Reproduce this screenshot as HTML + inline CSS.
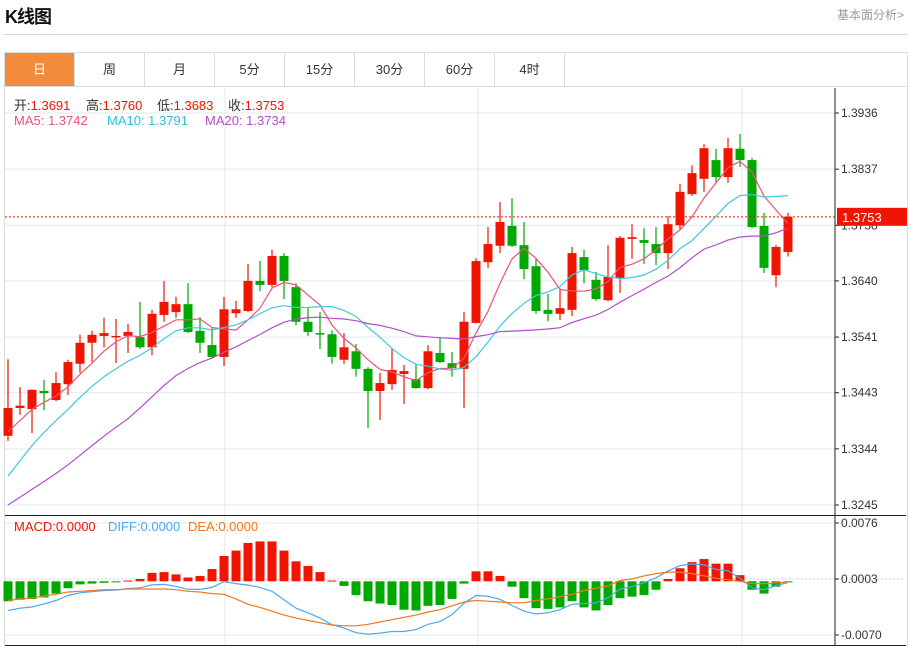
<!DOCTYPE html>
<html><head><meta charset="utf-8">
<style>
body{margin:0;width:910px;height:646px;background:#fff;overflow:hidden;font-family:"Liberation Sans","Noto Sans CJK SC",sans-serif;position:relative}
.title{position:absolute;left:5px;top:3px;font-size:18px;font-weight:bold;color:#111;letter-spacing:-1px}
.more{position:absolute;right:6px;top:6px;font-size:12px;color:#999}
.hr{position:absolute;left:4px;top:34px;width:903px;height:1px;background:#d4d4d4}
.box{position:absolute;left:4px;top:52px;width:902px;height:593px;border:1px solid #dcdcdc;border-bottom:none}
.tabs{position:absolute;left:5px;top:53px;height:33px;display:flex}
.tab{width:69px;height:33px;border-right:1px solid #dcdcdc;border-bottom:1px solid #dcdcdc;text-align:center;line-height:33px;font-size:13px;color:#333}
.tab.on{background:#f28c3c;color:#fff}
.tabfill{position:absolute;left:565px;top:86px;width:342px;height:1px;background:#dcdcdc}
svg{position:absolute;left:0;top:0}
.lg{position:absolute;font-size:13px;white-space:nowrap}
</style></head><body>
<div class="title">K线图</div>
<div class="more">基本面分析&gt;</div>
<div class="hr"></div>
<div class="box"></div>
<div class="tabs">
<div class="tab on">日</div>
<div class="tab">周</div>
<div class="tab">月</div>
<div class="tab">5分</div>
<div class="tab">15分</div>
<div class="tab">30分</div>
<div class="tab">60分</div>
<div class="tab">4时</div>
</div>
<div class="tabfill"></div>
<svg id="chart" width="910" height="646"></svg>
<script>
const opens=[1.3367,1.3416,1.3414,1.3446,1.3430,1.3458,1.3494,1.3531,1.3543,1.3541,1.3543,1.3541,1.3523,1.3580,1.3585,1.3599,1.3552,1.3527,1.3506,1.3583,1.3587,1.3640,1.3633,1.3684,1.3629,1.3568,1.3548,1.3546,1.3501,1.3516,1.3485,1.3446,1.3458,1.3476,1.3467,1.3451,1.3513,1.3495,1.3485,1.3566,1.3673,1.3702,1.3737,1.3703,1.3666,1.3589,1.3582,1.3589,1.3682,1.3642,1.3606,1.3645,1.3714,1.3712,1.3705,1.3689,1.3738,1.3793,1.3820,1.3853,1.3823,1.3873,1.3853,1.3737,1.3650,1.3691];
const highs=[1.3502,1.3453,1.3449,1.3465,1.3479,1.3501,1.3545,1.3552,1.3575,1.3573,1.3564,1.3603,1.3589,1.3640,1.3612,1.3636,1.3576,1.3557,1.3612,1.3605,1.3670,1.3675,1.3695,1.3689,1.3636,1.3592,1.3585,1.3553,1.3548,1.3529,1.3488,1.3478,1.3522,1.3492,1.3492,1.3527,1.3541,1.3515,1.3585,1.3680,1.3735,1.3779,1.3786,1.3744,1.3680,1.3617,1.3627,1.3700,1.3695,1.3656,1.3703,1.3719,1.3740,1.3733,1.3735,1.3754,1.3811,1.3844,1.3881,1.3873,1.3892,1.3899,1.3857,1.3760,1.3703,1.3760];
const lows=[1.3358,1.3404,1.3372,1.3412,1.3428,1.3439,1.3478,1.3497,1.3523,1.3495,1.3513,1.3520,1.3509,1.3568,1.3575,1.3548,1.3513,1.3504,1.3490,1.3575,1.3585,1.3622,1.3629,1.3608,1.3562,1.3543,1.3520,1.3494,1.3494,1.3471,1.3381,1.3395,1.3448,1.3423,1.3450,1.3449,1.3495,1.3471,1.3416,1.3565,1.3663,1.3689,1.3700,1.3643,1.3582,1.3569,1.3571,1.3578,1.3636,1.3605,1.3604,1.3619,1.3679,1.3670,1.3668,1.3661,1.3730,1.3790,1.3797,1.3814,1.3813,1.3841,1.3733,1.3654,1.3629,1.3683];
const closes=[1.3416,1.3420,1.3448,1.3442,1.3460,1.3497,1.3531,1.3545,1.3548,1.3543,1.3550,1.3523,1.3582,1.3603,1.3599,1.3550,1.3531,1.3506,1.3590,1.3590,1.3640,1.3633,1.3684,1.3640,1.3568,1.3550,1.3546,1.3506,1.3523,1.3485,1.3446,1.3460,1.3483,1.3481,1.3451,1.3516,1.3497,1.3486,1.3568,1.3675,1.3705,1.3744,1.3702,1.3661,1.3587,1.3582,1.3592,1.3689,1.3659,1.3608,1.3647,1.3716,1.3717,1.3707,1.3689,1.3740,1.3797,1.3830,1.3874,1.3823,1.3874,1.3853,1.3735,1.3663,1.3700,1.3753];
const priorCloses=[1.3150,1.3160,1.3170,1.3180,1.3190,1.3195,1.3205,1.3215,1.3225,1.3250,1.3150,1.3180,1.3210,1.3250,1.3300,1.3320,1.3350,1.3380,1.3404];
const macdBars=[-0.0026,-0.0024,-0.0023,-0.0021,-0.0016,-0.0009,-0.0004,-0.0003,-0.0002,-0.0001,0.0001,0.0003,0.0011,0.0012,0.0009,0.0005,0.0007,0.0016,0.0033,0.0040,0.0050,0.0052,0.0052,0.0040,0.0026,0.0020,0.0012,0.0001,-0.0006,-0.0018,-0.0026,-0.0029,-0.0031,-0.0037,-0.0038,-0.0032,-0.0031,-0.0023,-0.0003,0.0013,0.0013,0.0007,-0.0007,-0.0022,-0.0035,-0.0036,-0.0034,-0.0026,-0.0034,-0.0038,-0.0031,-0.0022,-0.0020,-0.0018,-0.0011,0.0003,0.0017,0.0025,0.0029,0.0023,0.0023,0.0008,-0.0011,-0.0016,-0.0007,-0.0001];
const deaValues=[-0.0025,-0.0023,-0.0022,-0.0019,-0.0017,-0.0014,-0.0013,-0.0012,-0.0011,-0.0011,-0.0010,-0.0010,-0.0010,-0.0010,-0.0011,-0.0013,-0.0014,-0.0016,-0.0017,-0.0023,-0.0030,-0.0034,-0.0039,-0.0044,-0.0048,-0.0051,-0.0054,-0.0057,-0.0058,-0.0058,-0.0056,-0.0053,-0.0050,-0.0047,-0.0044,-0.0040,-0.0037,-0.0032,-0.0027,-0.0025,-0.0026,-0.0027,-0.0028,-0.0028,-0.0025,-0.0023,-0.0020,-0.0017,-0.0012,-0.0009,-0.0006,0.0001,0.0003,0.0007,0.0010,0.0012,0.0012,0.0010,0.0007,0.0004,0.0002,0.0000,-0.0003,-0.0003,-0.0002,-0.0001];
const priceTicks=[1.3936,1.3837,1.3738,1.3640,1.3541,1.3443,1.3344,1.3245];
const macdTicks=[0.0076,0.0003,-0.0070];
const lastPrice=1.3753;

const NS='http://www.w3.org/2000/svg';
const svg=document.getElementById('chart');
function mk(tag,attrs,parent){const e=document.createElementNS(NS,tag);for(const k in attrs)e.setAttribute(k,attrs[k]);(parent||svg).appendChild(e);return e;}
const X0=8,DX=12,AXIS=835;
const xOf=i=>X0+DX*i;
const yP=p=>113+(1.3936-p)*(392/0.0691);
const yM=v=>579-(v-0.0003)*(56/0.0073);
priceTicks.forEach((t,k)=>{
 const g=mk('line',{x1:5,x2:AXIS,y1:yP(t),y2:yP(t),stroke:'#e3e9ef','stroke-width':1});
 
 
});
[225,478,742].forEach(x=>{
 const g=mk('line',{x1:x,x2:x,y1:88,y2:645,stroke:'#e3e9ef','stroke-width':1});
 
 
});
[0.0076,-0.0070].forEach(t=>{
 const g=mk('line',{x1:5,x2:AXIS,y1:yM(t),y2:yM(t),stroke:'#e3e9ef','stroke-width':1});
 
 
});
const zl=mk('line',{x1:5,x2:905,y1:yM(0.0003),y2:yM(0.0003),stroke:'#bcd6ea','stroke-width':1,'stroke-dasharray':'2,2'});


closes.forEach((c,i)=>{
 const o=opens[i],up=c>=o,col=up?'#f01500':'#00a800',x=xOf(i);
 const w=mk('line',{x1:x,x2:x,y1:yP(highs[i]),y2:yP(lows[i]),stroke:col,'stroke-width':1.2});
 
 
 const top=yP(Math.max(o,c)),h=Math.max(1.5,Math.abs(yP(o)-yP(c)));
 const b=mk('rect',{x:x-4.5,y:top,width:9,height:h,fill:col});
 
 
});
const all=priorCloses.concat(closes);
function ma(n){return closes.map((_,i)=>{const j=i+priorCloses.length;let s=0;for(let k=j-n+1;k<=j;k++)s+=all[k];return s/n;});}
[[5,'#f0507a','ma5-line'],[10,'#40c8e0','ma10-line'],[20,'#b050c8','ma20-line']].forEach(([n,col,name])=>{
 const d=ma(n).map((v,i)=>(i?'L':'M')+xOf(i)+','+yP(v).toFixed(1)).join('');
 const p=mk('path',{d:d,fill:'none',stroke:col,'stroke-width':1.2});
 
 
});
const lp=mk('line',{x1:5,x2:AXIS,y1:yP(lastPrice),y2:yP(lastPrice),stroke:'#f01500','stroke-width':1,'stroke-dasharray':'2,2'});


macdBars.forEach((v,i)=>{
 const y0=yM(0),y1=yM(v);
 const r=mk('rect',{x:xOf(i)-4.5,y:Math.min(y0,y1),width:9,height:Math.max(1,Math.abs(y1-y0)),fill:v>=0?'#f01500':'#00a800'});
 
 
});
const diffValues=deaValues.map((d,i)=>d+macdBars[i]/2);
[[diffValues,'#4aa8f0','diff-line'],[deaValues,'#f07820','dea-line']].forEach(([arr,col,name])=>{
 const d=arr.map((v,i)=>(i?'L':'M')+xOf(i)+','+yM(v).toFixed(1)).join('');
 const p=mk('path',{d:d,fill:'none',stroke:col,'stroke-width':1.2});
 
 
});
const ax=mk('line',{x1:AXIS,x2:AXIS,y1:88,y2:645,stroke:'#222','stroke-width':1});


const sep=mk('line',{x1:5,x2:906,y1:515.5,y2:515.5,stroke:'#222','stroke-width':1});


const bot=mk('line',{x1:5,x2:906,y1:645.5,y2:645.5,stroke:'#222','stroke-width':1});


priceTicks.forEach(t=>{
 const tk=mk('line',{x1:AXIS,x2:AXIS+4,y1:yP(t),y2:yP(t),stroke:'#222'});
 
 
 const tx=mk('text',{x:AXIS+6,y:yP(t)+4,'font-size':12,fill:'#333'});
 tx.textContent=t.toFixed(4);
 
 
});
macdTicks.forEach(t=>{
 const tk=mk('line',{x1:AXIS,x2:AXIS+4,y1:yM(t),y2:yM(t),stroke:'#222'});
 
 
 const tx=mk('text',{x:AXIS+6,y:yM(t)+4,'font-size':12,fill:'#333'});
 tx.textContent=t.toFixed(4);
 
 
});
const lb=mk('rect',{x:AXIS+2,y:yP(lastPrice)-9,width:70,height:18,fill:'#f01500'});


const lt=mk('text',{x:AXIS+7,y:yP(lastPrice)+5,'font-size':13,fill:'#fff'});
lt.textContent=lastPrice.toFixed(4);


</script>
<div class="lg" style="left:14px;top:95px;color:#333">开:<span style="color:#f01500">1.3691</span></div>
<div class="lg" style="left:86px;top:95px;color:#333">高:<span style="color:#f01500">1.3760</span></div>
<div class="lg" style="left:157px;top:95px;color:#333">低:<span style="color:#f01500">1.3683</span></div>
<div class="lg" style="left:228px;top:95px;color:#333">收:<span style="color:#f01500">1.3753</span></div>
<div class="lg" style="left:14px;top:113px;color:#f0507a">MA5: 1.3742</div>
<div class="lg" style="left:107px;top:113px;color:#30c0d8">MA10: 1.3791</div>
<div class="lg" style="left:205px;top:113px;color:#b050c8">MA20: 1.3734</div>
<div class="lg" style="left:14px;top:519px;color:#f01500">MACD:0.0000</div>
<div class="lg" style="left:108px;top:519px;color:#4aa8f0">DIFF:0.0000</div>
<div class="lg" style="left:188px;top:519px;color:#f07820">DEA:0.0000</div>
</body></html>
